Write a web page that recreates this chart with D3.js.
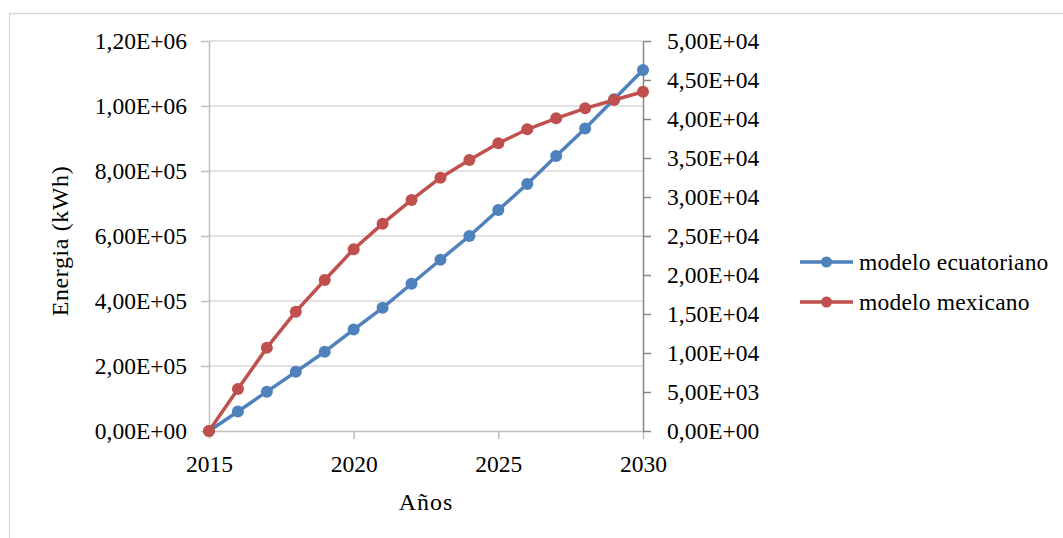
<!DOCTYPE html>
<html>
<head>
<meta charset="utf-8">
<script src="https://cdn.jsdelivr.net/npm/d3@7"></script>
<style>
  html, body { margin: 0; padding: 0; background: #fff; }
  svg { display: block; font-family: "Liberation Serif", "Times New Roman", serif; }
  svg text { font-family: "Liberation Serif", "Times New Roman", serif; }
</style>
</head>
<body>
<svg id="chart" width="1063" height="538"></svg>
<script>
// Years on the horizontal axis
const years = [2015, 2016, 2017, 2018, 2019, 2020, 2021, 2022, 2023, 2024, 2025, 2026, 2027, 2028, 2029, 2030];
// Energy (kWh), primary axis
const modeloEcuatoriano = [0, 60000, 121000, 182000, 244000, 312000, 379000, 453000, 527000, 600000, 680000, 760000, 846000, 931000, 1021000, 1111000];
// Energy (kWh), secondary axis
const modeloMexicano = [0, 5380, 10680, 15300, 19360, 23300, 26580, 29620, 32470, 34740, 36880, 38680, 40090, 41370, 42430, 43500];

const seriesNames = ["modelo ecuatoriano", "modelo mexicano"];
const seriesColors = ["#4F81BD", "#C0504D"];

const xTicks = [2015, 2020, 2025, 2030];
const leftTicks = [0, 200000, 400000, 600000, 800000, 1000000, 1200000];
const rightTicks = [0, 5000, 10000, 15000, 20000, 25000, 30000, 35000, 40000, 45000, 50000];

const xTitle = "Años";
const yTitle = "Energia  (kWh)";

// Spreadsheet-style scientific notation: 1,20E+06
function sci(v) {
  if (v === 0) return "0,00E+00";
  const e = Math.floor(Math.log10(Math.abs(v)) + 1e-9);
  const m = v / Math.pow(10, e);
  const s = e < 0 ? "-" : "+";
  return m.toFixed(2).replace(".", ",") + "E" + s + String(Math.abs(e)).padStart(2, "0");
}

const svg = d3.select("#chart");

// chart frame
svg.append("path")
  .attr("d", "M9.5,540 L9.5,13.5 L1065,13.5")
  .attr("fill", "none")
  .attr("stroke", "#D9D9D9")
  .attr("stroke-width", 1.3);

const x = d3.scaleLinear().domain([2015, 2030]).range([209, 643]);
const yL = d3.scaleLinear().domain([0, 1200000]).range([431, 41]);
const yR = d3.scaleLinear().domain([0, 50000]).range([431, 41]);

// horizontal gridlines
svg.append("g").selectAll("line")
  .data(leftTicks.filter(d => d > 0))
  .join("line")
  .attr("x1", x(2015)).attr("x2", x(2030))
  .attr("y1", d => yL(d)).attr("y2", d => yL(d))
  .attr("stroke", "#D9D9D9").attr("stroke-width", 1.5);

const tickFont = 23.5;

function styleAxis(g, color) {
  g.attr("font-family", null).attr("font-size", null);
  g.select(".domain").attr("stroke", color).attr("stroke-width", 1.5);
  g.selectAll(".tick line").attr("stroke", color).attr("stroke-width", 1.5);
  g.selectAll(".tick text").style("font-size", tickFont + "px").attr("fill", "#000");
}

// left axis
const gL = svg.append("g")
  .attr("transform", `translate(${x(2015)},0)`)
  .call(d3.axisLeft(yL).tickValues(leftTicks).tickFormat(sci).tickSize(8).tickPadding(14).tickSizeOuter(0));
styleAxis(gL, "#BFBFBF");

// bottom axis
const gX = svg.append("g")
  .attr("transform", `translate(0,${yL(0)})`)
  .call(d3.axisBottom(x).tickValues(xTicks).tickFormat(d3.format("d")).tickSize(8).tickPadding(16).tickSizeOuter(0));
styleAxis(gX, "#BFBFBF");

// right axis
const gR = svg.append("g")
  .attr("transform", `translate(${x(2030)},0)`)
  .call(d3.axisRight(yR).tickValues(rightTicks).tickFormat(sci).tickSize(8).tickPadding(16).tickSizeOuter(0));
styleAxis(gR, "#878787");

// series
const series = [
  { name: seriesNames[0], color: seriesColors[0], values: modeloEcuatoriano, y: yL },
  { name: seriesNames[1], color: seriesColors[1], values: modeloMexicano, y: yR }
];

series.forEach(s => {
  const pts = years.map((yr, i) => [yr, s.values[i]]);
  const line = d3.line().x(d => x(d[0])).y(d => s.y(d[1]));
  const g = svg.append("g");
  g.append("path")
    .attr("d", line(pts))
    .attr("fill", "none")
    .attr("stroke", s.color)
    .attr("stroke-width", 3.5)
    .attr("stroke-linejoin", "round");
  g.selectAll("circle")
    .data(pts)
    .join("circle")
    .attr("cx", d => x(d[0]))
    .attr("cy", d => s.y(d[1]))
    .attr("r", 6)
    .attr("fill", s.color);
});

// axis titles
svg.append("text")
  .attr("x", (x(2015) + x(2030)) / 2)
  .attr("y", 510)
  .attr("text-anchor", "middle")
  .style("font-size", "24px")
  .attr("letter-spacing", 1)
  .text(xTitle);

svg.append("text")
  .attr("transform", `translate(68,241) rotate(-90)`)
  .attr("text-anchor", "middle")
  .style("font-size", "24px")
  .attr("letter-spacing", 0.6)
  .text(yTitle);

// legend
const legend = svg.append("g");
series.forEach((s, i) => {
  const ly = 262 + i * 40;
  legend.append("line")
    .attr("x1", 800).attr("x2", 853)
    .attr("y1", ly).attr("y2", ly)
    .attr("stroke", s.color).attr("stroke-width", 3.5);
  legend.append("circle")
    .attr("cx", 826.5).attr("cy", ly).attr("r", 5.5)
    .attr("fill", s.color);
  legend.append("text")
    .attr("x", 859).attr("y", ly)
    .attr("dy", "0.33em")
    .style("font-size", "23.5px")
    .attr("letter-spacing", 0.2)
    .text(s.name);
});
</script>
</body>
</html>
